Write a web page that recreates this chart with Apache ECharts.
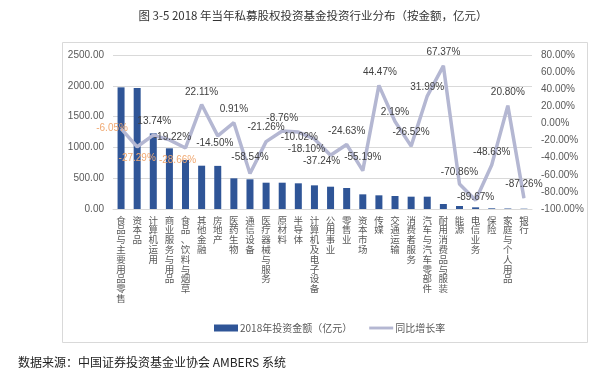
<!DOCTYPE html>
<html>
<head>
<meta charset="utf-8">
<script src="https://cdn.jsdelivr.net/npm/echarts@6/dist/echarts.min.js"></script>
<style>
html,body{margin:0;padding:0;background:#fff;}
#chart{width:613px;height:383px;}
</style>
</head>
<body>
<div id="chart"></div>
<script>
const categories = ['食品与主要用品零售','资本品','计算机运用','商业服务与用品','食品、饮料与烟草','其他金融','房地产','医药生物','通信设备','医疗器械与服务','原材料','半导体','计算机及电子设备','公用事业','零售业','资本市场','传媒','交通运输','消费者服务','汽车与汽车零部件','耐用消费品与服装','能源','电信业务','保险','家庭与个人用品','银行'];
const amounts = [1975,1964,1228,985,795,703,700,498,482,427,427,417,384,362,341,238,222,211,200,200,81,49,27,11,8,5];
const rates = [-6.05,-27.29,-13.74,-19.22,-28.66,22.11,-14.50,0.91,-58.54,-21.26,-8.76,-10.02,-18.10,-37.24,-24.63,-55.19,44.47,2.19,-26.52,31.99,67.37,-70.86,-89.67,-48.63,20.80,-87.26];
const rateLabels = ['-6.05%','-27.29%','13.74%','-19.22%','-28.66%','22.11%','-14.50%','0.91%','-58.54%','-21.26%','-8.76%','-10.02%','-18.10%','-37.24%','-24.63%','-55.19%','44.47%','2.19%','-26.52%','31.99%','67.37%','-70.86%','-89.67%','-48.63%','20.80%','-87.26%'];
const leftTicks = {min:0, max:2500, interval:500};
const rightTicks = {min:-100, max:80, interval:20};
const seriesNames = ['2018年投资金额（亿元）','同比增长率'];
const titleText = '图 3-5 2018 年当年私募股权投资基金投资行业分布（按金额，亿元）';
const sourceText = '数据来源：中国证券投资基金业协会 AMBERS 系统';

// label placement (style, not data)
const labelShift = [[-9,0],[0,11],[1,-14],[3,-3],[-8,12],[0,-12],[-3,7],[0,-13],[0,-16],[0,-14],[0,-13],[1,5],[-8,10],[-9,6],[0,-13],[0,-13],[1,-13],[0,-9],[0,-14],[0,-9],[0,-14],[0,-12],[0,-3],[0,-13],[0,-13],[0,-14]];
const orangeIdx = [0,1,4];

const chart = echarts.init(document.getElementById('chart'), null, {renderer:'canvas'});
const numFont = 'Liberation Sans, Arial, sans-serif';
const cjkFont = 'Noto Sans CJK SC, sans-serif';

const lineData = rates.map((v,i)=>({
  value: v,
  label: {
    offset: labelShift[i],
    color: orangeIdx.includes(i) ? '#F0A972' : '#404040'
  }
}));

chart.setOption({
  animation: false,
  backgroundColor: '#fff',
  graphic: [
    {type:'rect', shape:{x:62.5,y:42.5,width:525,height:300}, style:{fill:'none', stroke:'#d9d9d9', lineWidth:1}, z:-1},
    {type:'text', x:313, y:16, style:{text:titleText, fill:'#333', font:'11.5px '+cjkFont, textAlign:'center', textVerticalAlign:'middle'}},
    {type:'text', x:18, y:362, style:{text:sourceText, fill:'#222', font:'12px '+cjkFont, textAlign:'left', textVerticalAlign:'middle'}}
  ],
  legend: {
    left: 209, top: 318,
    itemWidth: 24, itemHeight: 7, itemGap: 17,
    textStyle: {fontSize:10, color:'#595959', fontFamily: cjkFont, padding:[0,0,0,-3]},
    data: [
      {name: seriesNames[0], icon: 'rect'},
      {name: seriesNames[1], icon: 'path://M0,0h25v3h-25z'}
    ]
  },
  grid: {left:113, right:81, top:55, bottom:174},
  xAxis: {
    type: 'category',
    data: categories,
    axisLine: {show:true, lineStyle:{color:'#d9d9d9'}},
    axisTick: {show:false},
    axisLabel: {
      interval: 0, margin: 6, fontSize: 9.5, lineHeight: 9.8, color:'#595959',
      fontFamily: cjkFont, verticalAlign:'top',
      formatter: (v)=> v.split('').join('\n')
    }
  },
  yAxis: [
    {
      type:'value', min:leftTicks.min, max:leftTicks.max, interval:leftTicks.interval,
      axisLine:{show:false}, axisTick:{show:false},
      splitLine:{lineStyle:{color:'#d9d9d9'}},
      axisLabel:{margin:9, fontSize:10, color:'#595959', fontFamily:numFont, formatter:(v)=>v.toFixed(2)}
    },
    {
      type:'value', min:rightTicks.min, max:rightTicks.max, interval:rightTicks.interval,
      axisLine:{show:false}, axisTick:{show:false}, splitLine:{show:false},
      axisLabel:{margin:9, fontSize:10, color:'#595959', fontFamily:numFont, formatter:(v)=>v.toFixed(2)+'%'}
    }
  ],
  series: [
    {
      name: seriesNames[0], type:'bar', yAxisIndex:0, data: amounts,
      barWidth: 7, itemStyle:{color:'#2F5597'}
    },
    {
      name: seriesNames[1], type:'line', yAxisIndex:1, data: lineData,
      symbol:'circle', symbolSize:1, showSymbol:true,
      itemStyle:{color:'#B4B7D2'},
      lineStyle:{color:'#B4B7D2', width:3.5},
      z: 5,
      label:{
        show:true, position:'inside', fontSize:10, fontFamily:numFont,
        formatter:(p)=>rateLabels[p.dataIndex]
      }
    }
  ]
});
</script>
</body>
</html>
